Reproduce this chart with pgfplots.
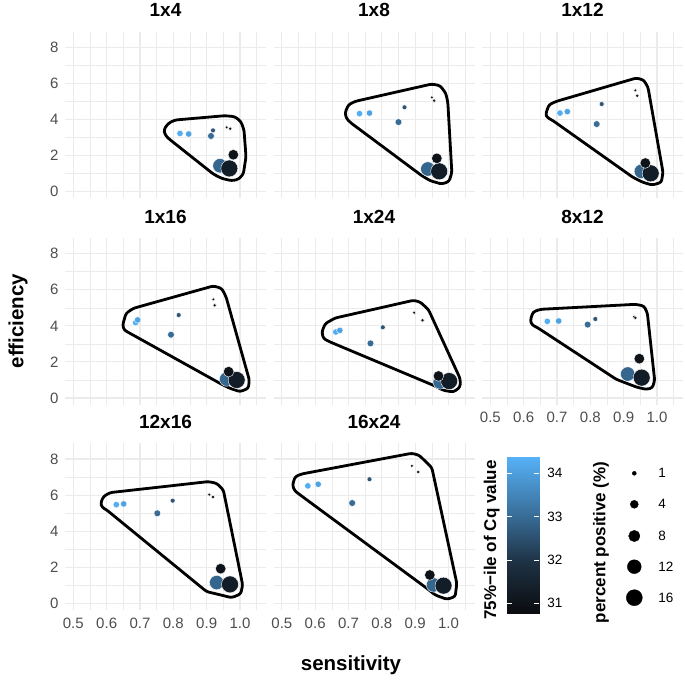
\documentclass[border=0pt]{standalone}
\usepackage{fontspec}
\setmainfont{Liberation Sans}
\usepackage{pgfplots}
\pgfplotsset{compat=1.18}
\definecolor{gridc}{HTML}{EBEBEB}
\definecolor{tickc}{HTML}{4D4D4D}
\pgfplotsset{
  colormap={cq}{rgb255(0pt)=(10,12,15) rgb255(33pt)=(30,50,68) rgb255(62pt)=(56,108,150) rgb255(100pt)=(86,177,247)},
  panel/.style={
    scale only axis, width=201pt, height=166.7pt, anchor=south west,
    xmin=0.475, xmax=1.078, ymin=-0.37, ymax=8.87,
    axis line style={draw=none}, tick style={draw=none},
    xtick={0.5,0.6,0.7,0.8,0.9,1.0}, minor xtick={0.55,0.65,0.75,0.85,0.95,1.05},
    ytick={0,2,4,6,8}, minor ytick={1,3,5,7},
    grid=both, major grid style={draw=gridc, line width=1.1pt}, minor grid style={draw=gridc, line width=0.55pt},
    xticklabels={}, yticklabels={},
    xticklabel style={font=\fontsize{15}{15}\selectfont, text=tickc, yshift=-4pt},
    yticklabel style={font=\fontsize{15}{15}\selectfont, text=tickc, xshift=-3pt},
    title style={at={(0.5,1)}, anchor=base, yshift=9pt, font=\fontsize{19}{19}\selectfont\bfseries},
    colormap name=cq, point meta min=30.77, point meta max=34.38,
  },
  pts/.style={scatter, only marks, mark=*, point meta=explicit,
    scatter/use mapped color={draw=white, fill=mapped color},
    visualization depends on={\thisrow{pp} \as \perc},
    scatter/@pre marker code/.append style={/tikz/mark size=2*sqrt(\perc)},
    mark options={line width=0.4pt}},
  hull/.style={draw=black, line width=2.8pt, rounded corners=2.5pt, line join=round, no marks, sharp plot, forget plot},
}
\begin{document}
\begin{tikzpicture}
\useasboundingbox (0,0) rectangle (685pt,683pt);

% ---------- 1x4 ----------
\begin{axis}[panel, at={(65pt,484.6pt)}, title={1x4}, yticklabels={0,2,4,6,8}]
\addplot[hull] coordinates {(0.880,4.094) (0.955,4.214) (0.985,4.159) (1.003,3.882) (1.012,3.420) (1.018,1.941) (1.010,0.980) (0.995,0.684) (0.975,0.610) (0.945,0.739) (0.920,0.980) (0.785,2.957) (0.774,3.198) (0.772,3.457) (0.785,3.789) (0.805,3.974)} -- cycle;
\addplot[pts] table[x=s,y=e,meta=c] {
s e c pp
0.820 3.23 34.3 2.6
0.846 3.20 34.1 2.6
0.913 3.09 33.0 2.9
0.919 3.40 32.6 1.5
0.960 3.57 31.0 0.7
0.971 3.49 31.1 0.9
0.940 1.44 32.9 13
0.968 1.29 31.3 18
0.980 2.05 31.0 7
};
\end{axis}

% ---------- 1x8 ----------
\begin{axis}[panel, at={(273.5pt,484.6pt)}, title={1x8}]
\addplot[hull] coordinates {(0.835,5.490) (0.950,5.970) (0.975,5.878) (0.992,5.453) (0.998,4.954) (1.010,1.072) (1.002,0.573) (0.980,0.425) (0.945,0.610) (0.920,0.887) (0.705,3.845) (0.693,4.085) (0.690,4.399) (0.700,4.824) (0.720,5.009)} -- cycle;
\addplot[pts] table[x=s,y=e,meta=c] {
s e c pp
0.733 4.33 34.3 2.6
0.763 4.36 34.1 2.6
0.850 3.86 33.0 2.9
0.868 4.68 32.6 1.5
0.950 5.23 31.0 0.7
0.957 5.05 31.1 0.9
0.938 1.26 32.9 13
0.972 1.13 31.3 18
0.965 1.85 31.0 7
};
\end{axis}

% ---------- 1x12 ----------
\begin{axis}[panel, at={(482pt,484.6pt)}, title={1x12}]
\addplot[hull] coordinates {(0.818,5.656) (0.938,6.303) (0.960,6.192) (0.973,5.786) (1.018,1.072) (1.013,0.518) (0.986,0.370) (0.958,0.518) (0.928,0.795) (0.688,3.937) (0.670,4.122) (0.666,4.307) (0.676,4.824) (0.698,5.009)} -- cycle;
\addplot[pts] table[x=s,y=e,meta=c] {
s e c pp
0.709 4.36 34.3 2.6
0.731 4.44 34.1 2.6
0.819 3.75 33.0 2.9
0.834 4.86 32.6 1.5
0.935 5.62 31.0 0.7
0.941 5.32 31.1 0.9
0.953 1.13 32.9 13
0.981 1.02 31.3 18
0.965 1.59 31.0 7
};
\end{axis}

% ---------- 1x16 ----------
\begin{axis}[panel, at={(65pt,278.3pt)}, title={1x16}, yticklabels={0,2,4,6,8}]
\addplot[hull] coordinates {(0.800,5.592) (0.920,6.211) (0.945,6.081) (0.958,5.619) (1.028,0.998) (1.025,0.536) (1.000,0.351) (0.970,0.536) (0.940,0.813) (0.670,3.586) (0.652,3.771) (0.648,4.048) (0.658,4.695) (0.680,4.972)} -- cycle;
\addplot[pts] table[x=s,y=e,meta=c] {
s e c pp
0.687 4.18 34.3 2.6
0.693 4.33 34.1 2.6
0.793 3.51 33.0 2.9
0.816 4.60 32.6 1.5
0.920 5.47 31.0 0.7
0.924 5.14 31.1 0.9
0.960 1.05 32.9 13
0.990 1.00 31.3 18
0.966 1.46 31.0 7
};
\end{axis}

% ---------- 1x24 ----------
\begin{axis}[panel, at={(273.5pt,278.3pt)}, title={1x24}]
\addplot[hull] coordinates {(0.778,4.926) (0.895,5.416) (0.915,5.323) (0.940,4.898) (1.035,1.072) (1.035,0.610) (1.015,0.333) (0.985,0.425) (0.955,0.702) (0.645,3.105) (0.625,3.290) (0.620,3.660) (0.630,4.122) (0.660,4.436)} -- cycle;
\addplot[pts] table[x=s,y=e,meta=c] {
s e c pp
0.662 3.66 34.3 2.6
0.674 3.75 34.1 2.6
0.766 3.03 33.0 2.9
0.803 3.92 32.6 1.5
0.897 4.73 31.0 0.7
0.922 4.31 31.1 0.9
0.975 0.89 32.9 13
1.002 0.94 31.3 18
0.970 1.22 31.0 7
};
\end{axis}

% ---------- 8x12 ----------
\begin{axis}[panel, at={(482pt,278.3pt)}, title={8x12}, xticklabels={0.5,0.6,0.7,0.8,0.9,1.0}]
\addplot[hull] coordinates {(0.793,5.056) (0.936,5.194) (0.961,5.102) (0.971,4.713) (0.993,0.980) (0.986,0.555) (0.966,0.481) (0.938,0.610) (0.878,1.035) (0.643,3.882) (0.624,4.067) (0.620,4.307) (0.628,4.769) (0.650,4.917)} -- cycle;
\addplot[pts] table[x=s,y=e,meta=c] {
s e c pp
0.671 4.25 34.3 2.6
0.705 4.27 34.1 2.6
0.792 4.07 33.0 2.9
0.815 4.38 32.6 1.5
0.931 4.51 31.0 0.7
0.935 4.44 31.1 0.9
0.912 1.33 32.9 13
0.954 1.13 31.3 18
0.947 2.18 31.0 7
};
\end{axis}

% ---------- 12x16 ----------
\begin{axis}[panel, at={(65pt,73pt)}, title={12x16}, yticklabels={0,2,4,6,8}, xticklabels={0.5,0.6,0.7,0.8,0.9,1.0}]
\addplot[hull] coordinates {(0.758,6.442) (0.905,6.747) (0.930,6.654) (0.950,6.285) (1.008,1.017) (1.002,0.518) (0.975,0.314) (0.930,0.518) (0.900,0.647) (0.600,5.176) (0.586,5.323) (0.582,5.545) (0.590,5.915) (0.610,6.137)} -- cycle;
\addplot[pts] table[x=s,y=e,meta=c] {
s e c pp
0.629 5.47 34.3 2.6
0.651 5.51 34.1 2.6
0.752 4.99 33.0 2.9
0.798 5.69 32.6 1.5
0.908 6.03 31.0 0.7
0.919 5.90 31.1 0.9
0.930 1.15 32.9 13
0.970 1.05 31.3 18
0.942 1.92 31.0 7
};
\end{axis}

% ---------- 16x24 ----------
\begin{axis}[panel, at={(273.5pt,73pt)}, title={16x24}, xticklabels={0.5,0.6,0.7,0.8,0.9,1.0}]
\addplot[hull] coordinates {(0.725,7.745) (0.890,8.318) (0.912,8.207) (0.950,7.523) (1.025,1.109) (1.020,0.370) (0.995,0.222) (0.960,0.462) (0.935,0.832) (0.555,6.007) (0.538,6.248) (0.532,6.562) (0.540,7.024) (0.560,7.172)} -- cycle;
\addplot[pts] table[x=s,y=e,meta=c] {
s e c pp
0.578 6.51 34.3 2.6
0.609 6.60 34.1 2.6
0.711 5.56 33.0 2.9
0.763 6.88 32.6 1.5
0.890 7.62 31.0 0.7
0.909 7.28 31.1 0.9
0.955 1.02 32.9 13
0.985 0.98 31.3 18
0.944 1.57 31.0 7
};
\end{axis}

% ---------- colour bar ----------
\begin{axis}[at={(507.3pt,69.7pt)}, anchor=south west, scale only axis, width=31.7pt, height=156.6pt,
  xmin=0, xmax=1, ymin=30.769, ymax=34.383, xtick=\empty, ytick={31,32,33,34},
  axis line style={draw=none}, tick align=inside, major tick length=5pt,
  tick style={draw=white, line width=0.7pt}, ytick pos=both, yticklabel pos=right,
  /pgf/number format/assume math mode=true,
  yticklabel style={font=\fontsize{13.5}{13.5}\selectfont, xshift=4.8pt},
  axis on top, colormap name=cq, point meta min=30.769, point meta max=34.383]
\addplot[surf, shader=interp, point meta=y] coordinates {
(0,30.769) (1,30.769)

(0,34.383) (1,34.383)
};
\end{axis}

% ---------- size legend ----------
\begin{axis}[at={(620pt,69.7pt)}, anchor=south west, scale only axis, width=30pt, height=156.6pt,
  xmin=0, xmax=30, ymin=0, ymax=156.6, axis line style={draw=none}, tick style={draw=none},
  xtick=\empty, ytick={15.6,46.6,77.3,109,140}, yticklabels={16,12,8,4,1},
  yticklabel pos=right, yticklabel style={font=\fontsize{13.5}{13.5}\selectfont, anchor=west, xshift=4.8pt}, clip=false]
\addplot[only marks, mark=*, black, visualization depends on={\thisrow{pp} \as \perc},
  scatter, scatter/use mapped color={draw=black, fill=black},
  scatter/@pre marker code/.append style={/tikz/mark size=2*sqrt(\perc)}] table[x=x,y=y] {
x y pp
14.3 140 1
14.3 109 4
14.3 77.3 8
14.3 46.6 12
14.3 15.6 16
};
\end{axis}

% ---------- titles ----------
\node[rotate=90, font=\fontsize{20.5}{20.5}\selectfont\bfseries] at (18pt,362pt) {efficiency};
\node[anchor=base, font=\fontsize{20.5}{20.5}\selectfont\bfseries] at (351pt,13pt) {sensitivity};
\node[rotate=90, font=\fontsize{17}{17}\selectfont\bfseries] at (491.7pt,143pt) {75\%−ile of Cq value};
\node[rotate=90, font=\fontsize{17}{17}\selectfont\bfseries] at (601pt,140.5pt) {percent positive (\%)};
\end{tikzpicture}
\end{document}
